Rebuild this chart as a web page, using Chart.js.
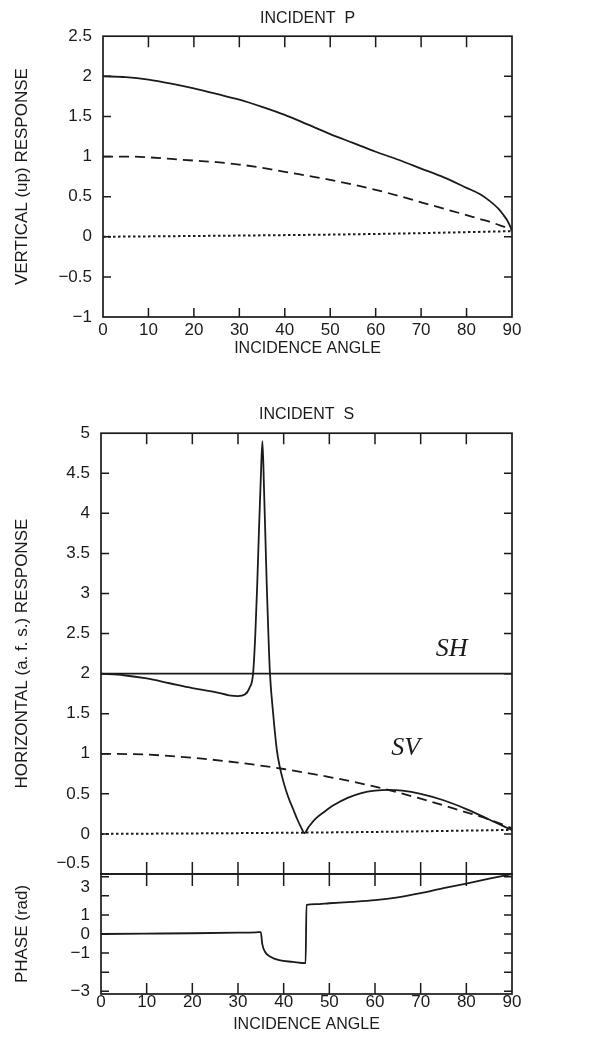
<!DOCTYPE html>
<html>
<head>
<meta charset="utf-8">
<script src="https://cdn.jsdelivr.net/npm/chart.js@4"></script>
<style>
  html, body { margin: 0; padding: 0; background: #fff; }
  #wrap { position: relative; width: 616px; height: 1044px; }
  canvas { position: absolute; left: 0; }
</style>
</head>
<body>
<div id="wrap">
  <canvas id="pChart" width="616" height="365" style="top:0"></canvas>
  <canvas id="sChart" width="616" height="525" style="top:365px"></canvas>
  <canvas id="phChart" width="616" height="184" style="top:860px"></canvas>
</div>
<script>
// ---- data ----
const angleTicks = [0, 10, 20, 30, 40, 50, 60, 70, 80, 90];

// incident P
const pAngles = [0, 5, 10, 15, 20, 25, 30, 35, 40, 45, 50, 55, 60, 65, 70, 75, 80, 83, 85, 87, 88, 89, 90];
const pSolid = [2.0, 1.99, 1.96, 1.91, 1.85, 1.78, 1.71, 1.62, 1.52, 1.40, 1.28, 1.17, 1.06, 0.96, 0.85, 0.74, 0.61, 0.53, 0.45, 0.35, 0.28, 0.20, 0.08];
const pDashed = [1.0, 1.0, 0.99, 0.97, 0.95, 0.93, 0.90, 0.86, 0.81, 0.76, 0.71, 0.65, 0.585, 0.51, 0.43, 0.35, 0.27, 0.22, 0.19, 0.15, 0.13, 0.11, 0.085];
const pDotAngles = [0, 30, 60, 90];
const pDotted = [0, 0.015, 0.035, 0.07];
const pYTicks = [-1, -0.5, 0, 0.5, 1, 1.5, 2, 2.5];

// incident S
const shAngles = [0, 90];
const shValues = [2, 2];
const svAngles = [0, 5, 10, 15, 20, 25, 28, 30, 31.5, 32.5, 33.3, 33.8, 34.2, 34.6, 35.0, 35.35, 35.7, 36.0, 36.3, 36.65, 37.0, 37.7, 38.5, 39.1, 40, 41, 42, 43, 44, 44.5, 45.5, 47, 49, 51, 54, 57, 60, 63, 66, 70, 75, 80, 85, 88, 90];
const svValues = [2.0, 1.98, 1.94, 1.88, 1.82, 1.77, 1.73, 1.72, 1.74, 1.82, 2.0, 2.5, 3.1, 3.8, 4.45, 4.9, 4.3, 3.7, 3.1, 2.5, 2.0, 1.5, 1.05, 0.85, 0.64, 0.46, 0.32, 0.18, 0.06, 0.01, 0.09, 0.19, 0.28, 0.36, 0.45, 0.51, 0.54, 0.55, 0.54, 0.50, 0.42, 0.31, 0.18, 0.10, 0.05];
const sDashAngles = [0, 10, 20, 30, 40, 50, 60, 70, 80, 85, 90];
const sDashed = [1.0, 0.99, 0.95, 0.89, 0.81, 0.71, 0.59, 0.44, 0.27, 0.18, 0.07];
const sDotAngles = [0, 30, 60, 90];
const sDotted = [0, 0.01, 0.025, 0.05];
const sYTicks = [-0.5, 0, 0.5, 1, 1.5, 2, 2.5, 3, 3.5, 4, 4.5, 5];

// phase of SV
const phAngles = [0, 10, 20, 30, 34, 35, 35.3, 35.9, 37.1, 39, 42, 44.8, 45, 47, 50, 55, 60, 65, 70, 75, 80, 85, 90];
const phValues = [0, 0.02, 0.04, 0.07, 0.09, 0.1, -0.5, -0.93, -1.19, -1.37, -1.46, -1.53, 1.53, 1.56, 1.61, 1.68, 1.77, 1.92, 2.14, 2.4, 2.64, 2.9, 3.14];
const phYTicks = [-3, -2, -1, 0, 1, 2, 3];
const phLabelled = [-3, -1, 0, 1, 3];

// ---- look ----
const ink = '#1b1b1b';
const family = '"Liberation Sans", Arial, sans-serif';
Chart.defaults.font.family = family;
Chart.defaults.color = ink;

const pts = (xs, ys) => xs.map((x, i) => ({x: x, y: ys[i]}));
const minus = s => String(s).replace('-', '\u2212');

function line(xs, ys, style) {
  const ds = {
    data: pts(xs, ys),
    borderColor: ink,
    borderWidth: 1.8,
    pointRadius: 0,
    fill: false,
    cubicInterpolationMode: 'monotone'
  };
  if (style === 'dash') ds.borderDash = [10, 6];
  if (style === 'dot') { ds.borderDash = [2.5, 2.5]; ds.borderWidth = 2; }
  return ds;
}

// box + inward ticks on all four sides
const frameTicks = {
  id: 'frameTicks',
  afterDraw(chart, args, o) {
    const {ctx, chartArea: a, scales: {x, y}} = chart;
    ctx.save();
    ctx.strokeStyle = ink;
    ctx.lineWidth = 1.7;
    ctx.strokeRect(a.left, a.top, a.right - a.left, a.bottom - a.top);
    ctx.lineWidth = 1.5;
    ctx.beginPath();
    x.ticks.forEach(t => {
      if (t.value <= x.min || t.value >= x.max) return;
      const px = x.getPixelForValue(t.value);
      if (o.xTop) { ctx.moveTo(px, a.top); ctx.lineTo(px, a.top + o.xTop); }
      if (o.xBottom) { ctx.moveTo(px, a.bottom); ctx.lineTo(px, a.bottom - o.xBottom); }
    });
    y.ticks.forEach(t => {
      if (t.value <= y.min || t.value >= y.max) return;
      const py = y.getPixelForValue(t.value);
      ctx.moveTo(a.left, py); ctx.lineTo(a.left + o.yLen, py);
      ctx.moveTo(a.right, py); ctx.lineTo(a.right - o.yLen, py);
    });
    ctx.stroke();
    ctx.restore();
  }
};

// italic curve names
const curveNames = {
  id: 'curveNames',
  afterDatasetsDraw(chart, args, o) {
    if (!o.items) return;
    const {ctx, scales: {x, y}} = chart;
    ctx.save();
    ctx.fillStyle = ink;
    ctx.font = 'italic 26px "Liberation Serif", "DejaVu Serif", serif';
    ctx.textAlign = 'center';
    ctx.textBaseline = 'middle';
    o.items.forEach(it => ctx.fillText(it.text, x.getPixelForValue(it.x), y.getPixelForValue(it.y)));
    ctx.restore();
  }
};

function xScale(showLabels, height, labelPad, titlePad) {
  return {
    type: 'linear', min: 0, max: 90,
    afterBuildTicks: s => { s.ticks = angleTicks.map(v => ({value: v})); },
    afterFit: s => { s.height = height; },
    grid: {display: false, drawTicks: false}, border: {display: false},
    ticks: {display: showLabels, autoSkip: false, maxRotation: 0, padding: labelPad,
            font: {size: 17, lineHeight: 1}},
    title: {display: showLabels, text: 'INCIDENCE ANGLE', color: ink,
            font: {size: 16}, padding: {top: 0, bottom: titlePad}}
  };
}

function yScale(min, max, tickList, width, text, cb) {
  return {
    type: 'linear', min: min, max: max,
    afterBuildTicks: s => { s.ticks = tickList.map(v => ({value: v})); },
    afterFit: s => { s.width = width; s.paddingTop = 0; s.paddingBottom = 0; },
    grid: {display: false, drawTicks: false}, border: {display: false},
    ticks: {autoSkip: false, padding: 11, font: {size: 17}, callback: cb},
    title: {display: true, text: text, color: ink, font: {size: 17}, padding: {top: 12, bottom: 0}}
  };
}

const base = {
  responsive: false,
  animation: false,
  events: []
};

new Chart(document.getElementById('pChart'), {
  type: 'line',
  data: {datasets: [line(pAngles, pSolid), line(pAngles, pDashed, 'dash'), line(pDotAngles, pDotted, 'dot')]},
  options: Object.assign({}, base, {
    layout: {padding: {left: 0, right: 104, top: 0, bottom: 0}},
    scales: {
      x: xScale(true, 48, 5, 7),
      y: yScale(-1, 2.5, pYTicks, 103, 'VERTICAL (up) RESPONSE', v => minus(v))
    },
    plugins: {
      legend: {display: false}, tooltip: {enabled: false},
      title: {display: true, fullSize: false, text: 'INCIDENT  P', color: ink,
              font: {size: 16, weight: 'normal'}, padding: {top: 9, bottom: 8}},
      frameTicks: {xTop: 11, xBottom: 9, yLen: 8}
    }
  }),
  plugins: [frameTicks]
});

new Chart(document.getElementById('sChart'), {
  type: 'line',
  data: {datasets: [line(shAngles, shValues), line(svAngles, svValues), line(sDashAngles, sDashed, 'dash'), line(sDotAngles, sDotted, 'dot')]},
  options: Object.assign({}, base, {
    layout: {padding: {left: 0, right: 104, top: 0, bottom: 0}},
    scales: {
      x: xScale(false, 16, 0, 0),
      y: yScale(-0.5, 5, sYTicks, 101, 'HORIZONTAL (a. f. s.) RESPONSE',
                v => v === -0.5 ? [minus(v), ''] : minus(v))
    },
    plugins: {
      legend: {display: false}, tooltip: {enabled: false},
      title: {display: true, fullSize: false, text: 'INCIDENT  S', color: ink,
              font: {size: 16, weight: 'normal'}, padding: {top: 40, bottom: 9}},
      frameTicks: {xTop: 11, xBottom: 12, yLen: 8},
      curveNames: {items: [{text: 'SH', x: 76.8, y: 2.3}, {text: 'SV', x: 66.7, y: 1.07}]}
    }
  }),
  plugins: [frameTicks, curveNames]
});

new Chart(document.getElementById('phChart'), {
  type: 'line',
  data: {datasets: [line(phAngles, phValues)]},
  options: Object.assign({}, base, {
    layout: {padding: {left: 0, right: 104, top: 14, bottom: 0}},
    scales: {
      x: xScale(true, 50, 0, 10),
      y: yScale(-Math.PI, Math.PI, phYTicks, 101, 'PHASE (rad)',
                v => phLabelled.includes(v) ? (v === 3 ? ['', '3'] : minus(v)) : '')
    },
    plugins: {
      legend: {display: false}, tooltip: {enabled: false},
      title: {display: false},
      frameTicks: {xTop: 12, xBottom: 11, yLen: 8}
    }
  }),
  plugins: [frameTicks]
});
</script>
</body>
</html>
